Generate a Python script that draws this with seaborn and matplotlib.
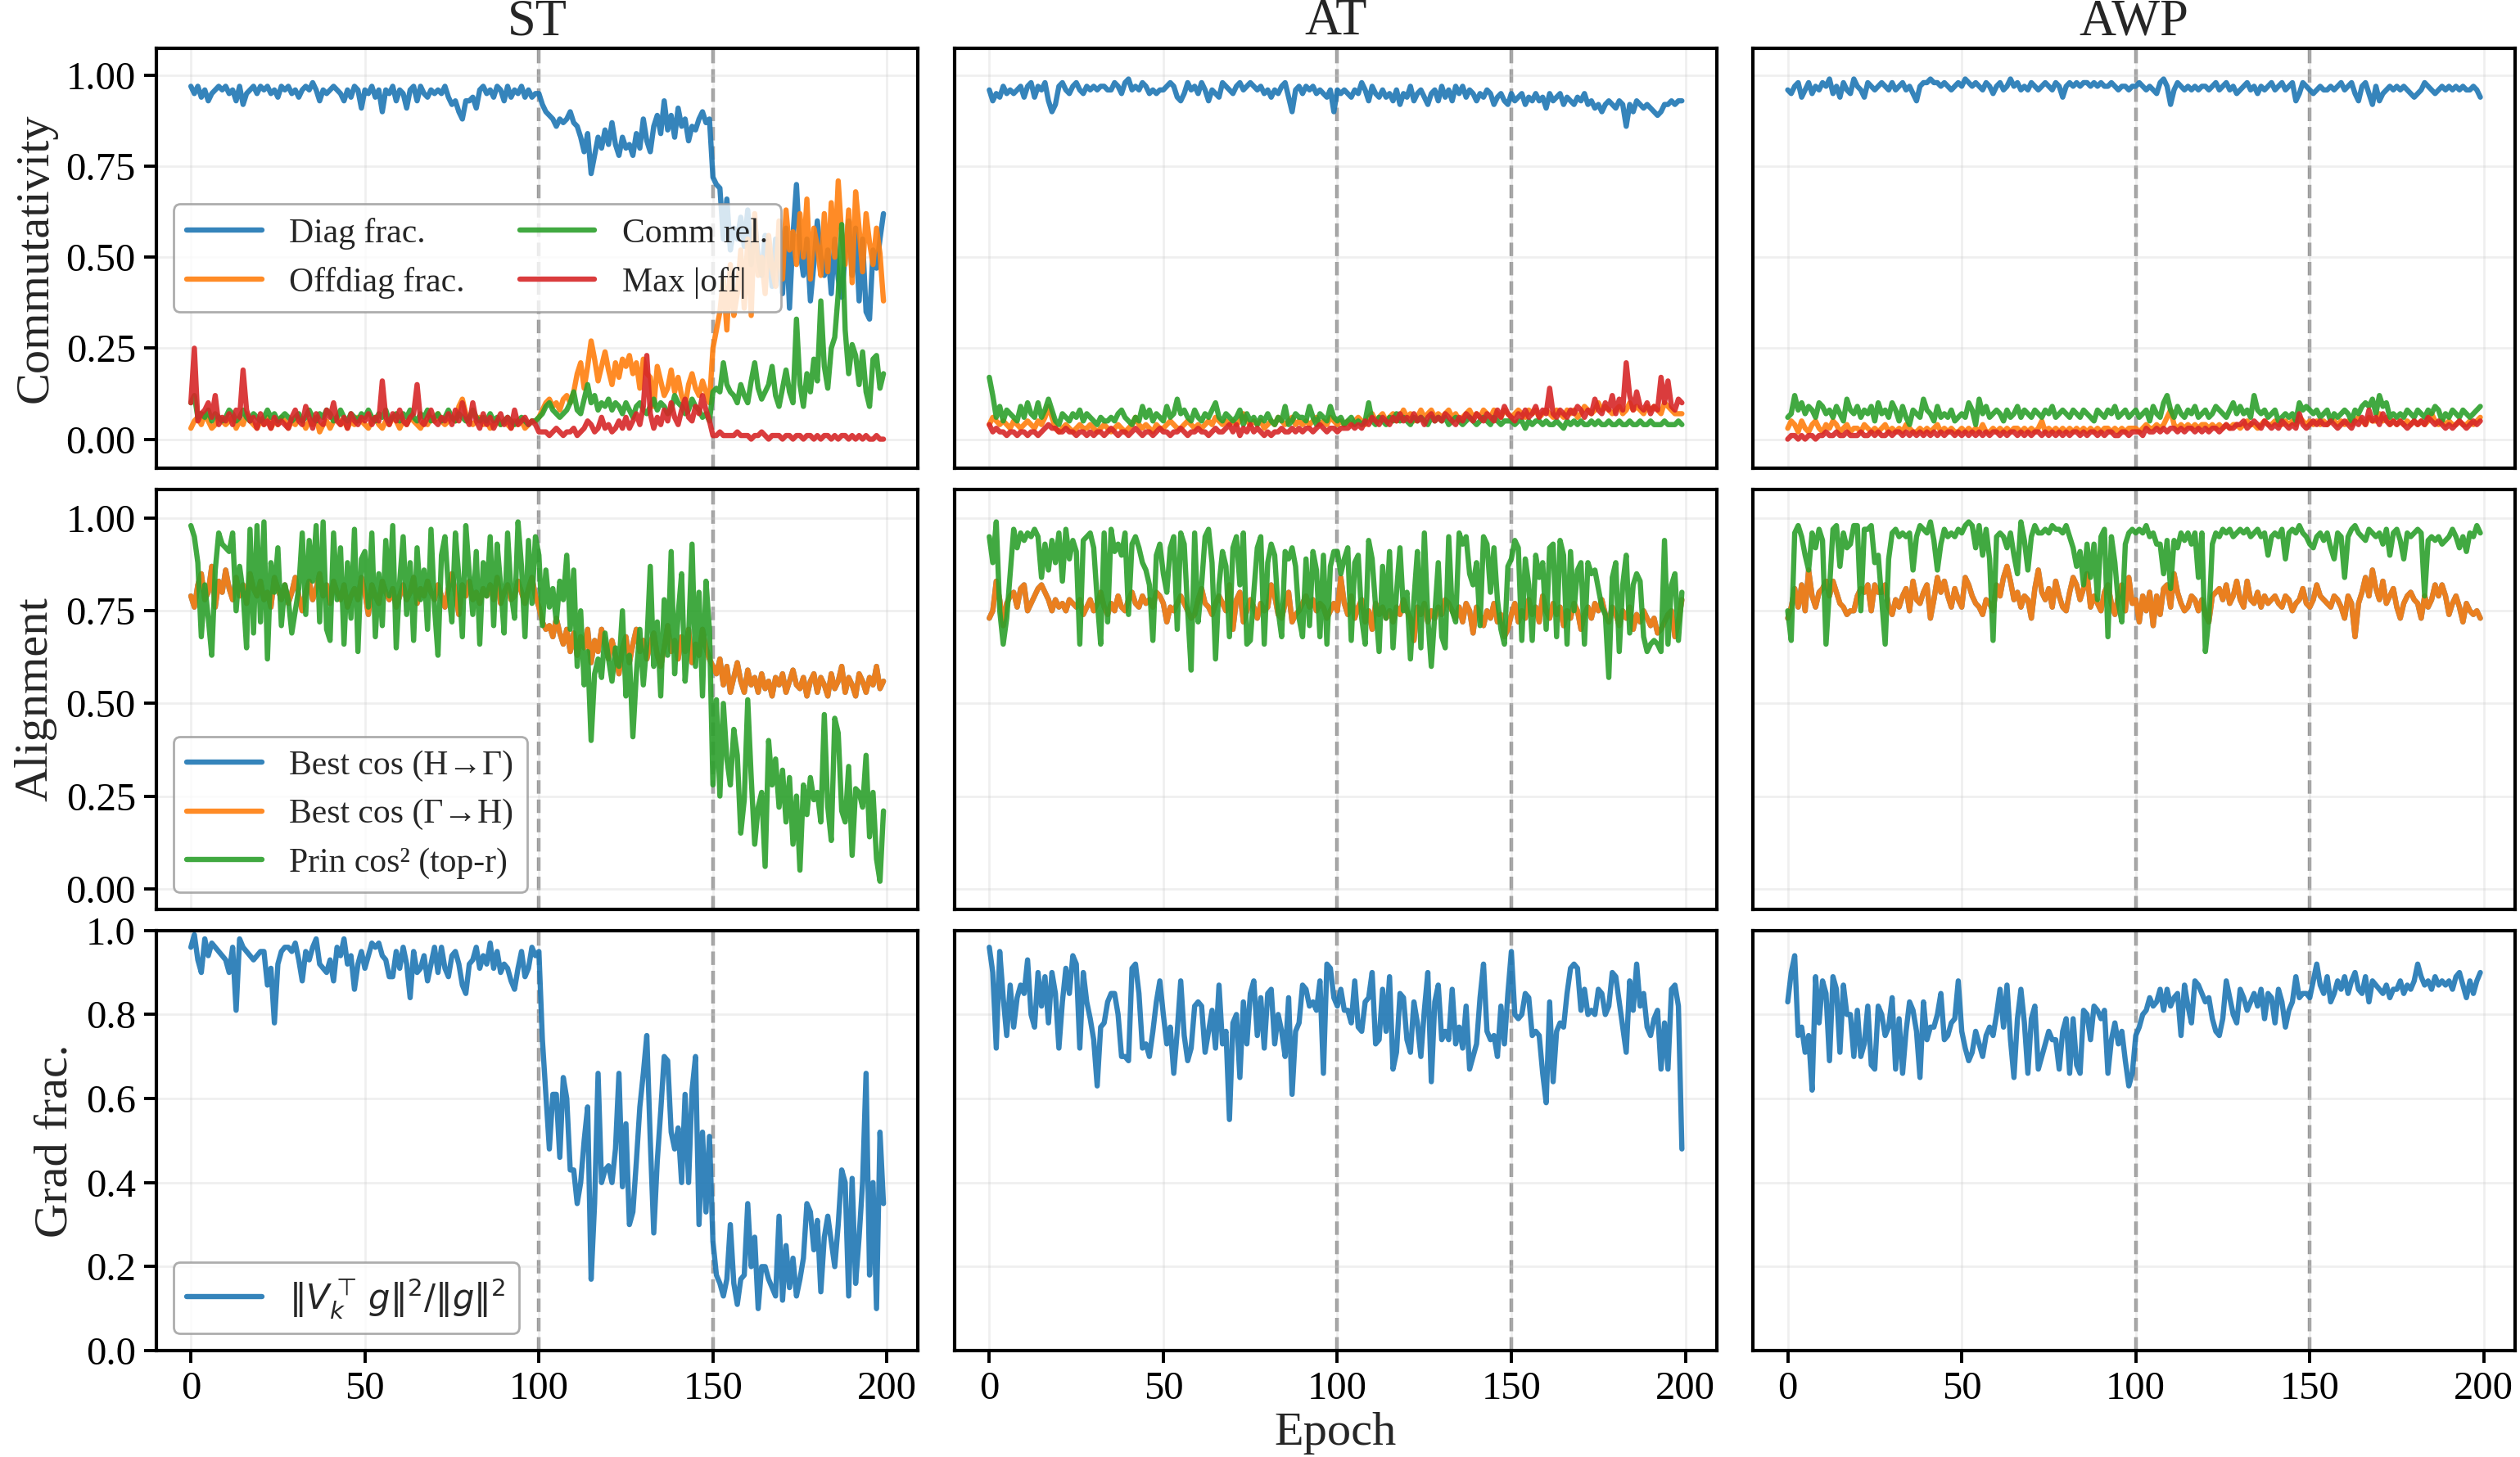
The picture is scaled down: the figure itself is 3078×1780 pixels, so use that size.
import numpy as np
import pandas as pd
import seaborn as sns
import matplotlib.pyplot as plt

# ---- data (one value per epoch) ----
epochs = np.arange(200)
runs = ['ST', 'AT', 'AWP']
row_labels = ['Commutativity', 'Alignment', 'Grad frac.']

st_diag = [
    0.97, 0.95, 0.97, 0.94, 0.96, 0.93, 0.95, 0.96, 0.97, 0.96,
    0.97, 0.95, 0.96, 0.93, 0.97, 0.92, 0.95, 0.96, 0.97, 0.95,
    0.97, 0.96, 0.97, 0.95, 0.96, 0.94, 0.97, 0.96, 0.97, 0.95,
    0.96, 0.94, 0.96, 0.97, 0.96, 0.98, 0.96, 0.93, 0.96, 0.95,
    0.96, 0.97, 0.96, 0.95, 0.93, 0.96, 0.94, 0.97, 0.96, 0.91,
    0.96, 0.95, 0.97, 0.94, 0.96, 0.90, 0.96, 0.95, 0.97, 0.93,
    0.96, 0.95, 0.91, 0.96, 0.97, 0.93, 0.97, 0.95, 0.94, 0.96,
    0.95, 0.96, 0.95, 0.97, 0.94, 0.92, 0.93, 0.90, 0.88, 0.93,
    0.93, 0.94, 0.91, 0.96, 0.97, 0.95, 0.96, 0.94, 0.97, 0.96,
    0.93, 0.97, 0.94, 0.96, 0.95, 0.97, 0.94, 0.96, 0.94, 0.95,
    0.95, 0.92, 0.90, 0.89, 0.88, 0.86, 0.88, 0.87, 0.88, 0.90,
    0.87, 0.86, 0.83, 0.79, 0.84, 0.73, 0.78, 0.83, 0.80, 0.85,
    0.81, 0.87, 0.81, 0.78, 0.83, 0.80, 0.81, 0.78, 0.84, 0.80,
    0.88, 0.82, 0.79, 0.86, 0.89, 0.84, 0.93, 0.85, 0.89, 0.83,
    0.91, 0.86, 0.88, 0.82, 0.86, 0.85, 0.88, 0.90, 0.87, 0.88,
    0.72, 0.70, 0.69, 0.55, 0.66, 0.52, 0.58, 0.55, 0.61, 0.53,
    0.63, 0.48, 0.60, 0.50, 0.45, 0.56, 0.52, 0.42, 0.55, 0.47,
    0.40, 0.58, 0.36, 0.56, 0.70, 0.52, 0.45, 0.55, 0.38, 0.48,
    0.60, 0.50, 0.45, 0.52, 0.40, 0.55, 0.44, 0.39, 0.51, 0.60,
    0.45, 0.58, 0.38, 0.55, 0.35, 0.33, 0.52, 0.47, 0.55, 0.62,
]
st_offdiag = [
    0.03, 0.05, 0.06, 0.04, 0.07, 0.05, 0.03, 0.04, 0.06, 0.05,
    0.04, 0.05, 0.06, 0.03, 0.05, 0.04, 0.07, 0.05, 0.04, 0.03,
    0.05, 0.04, 0.06, 0.03, 0.05, 0.04, 0.06, 0.05, 0.03, 0.05,
    0.04, 0.06, 0.05, 0.03, 0.05, 0.04, 0.06, 0.02, 0.04, 0.05,
    0.03, 0.05, 0.06, 0.04, 0.05, 0.03, 0.05, 0.04, 0.06, 0.05,
    0.04, 0.03, 0.05, 0.06, 0.04, 0.03, 0.05, 0.04, 0.06, 0.05,
    0.03, 0.05, 0.04, 0.06, 0.05, 0.04, 0.03, 0.05, 0.04, 0.06,
    0.05, 0.07, 0.05, 0.04, 0.05, 0.06, 0.05, 0.09, 0.11, 0.07,
    0.05, 0.04, 0.05, 0.06, 0.04, 0.05, 0.03, 0.04, 0.05, 0.04,
    0.05, 0.04, 0.03, 0.05, 0.04, 0.05, 0.03, 0.04, 0.05, 0.05,
    0.06, 0.08, 0.10, 0.11, 0.09, 0.10, 0.08, 0.11, 0.12, 0.10,
    0.13, 0.18, 0.21, 0.14, 0.20, 0.27, 0.22, 0.16, 0.20, 0.24,
    0.19, 0.15, 0.21, 0.17, 0.22, 0.20, 0.23, 0.18, 0.21, 0.14,
    0.22, 0.18, 0.17, 0.09, 0.20, 0.16, 0.12, 0.14, 0.19, 0.13,
    0.17, 0.12, 0.09, 0.15, 0.18, 0.14, 0.12, 0.16, 0.13, 0.10,
    0.25, 0.30, 0.35, 0.44, 0.30, 0.48, 0.34, 0.40, 0.52, 0.36,
    0.55, 0.34, 0.62, 0.45, 0.50, 0.40, 0.56, 0.47, 0.42, 0.60,
    0.44, 0.63, 0.52, 0.57, 0.48, 0.62, 0.50, 0.66, 0.44, 0.58,
    0.53, 0.45, 0.62, 0.46, 0.65, 0.50, 0.71, 0.56, 0.48, 0.63,
    0.43, 0.68, 0.58, 0.46, 0.62, 0.54, 0.48, 0.58, 0.51, 0.38,
]
st_comm = [
    0.10, 0.12, 0.06, 0.07, 0.06, 0.08, 0.05, 0.07, 0.06, 0.05,
    0.06, 0.08, 0.07, 0.05, 0.06, 0.08, 0.06, 0.05, 0.07, 0.06,
    0.05, 0.06, 0.08, 0.06, 0.07, 0.05, 0.06, 0.07, 0.06, 0.05,
    0.06, 0.07, 0.05, 0.06, 0.08, 0.06, 0.05, 0.07, 0.06, 0.08,
    0.07, 0.05, 0.06, 0.08, 0.06, 0.05, 0.07, 0.06, 0.05, 0.07,
    0.06, 0.08, 0.06, 0.05, 0.07, 0.06, 0.08, 0.05, 0.06, 0.07,
    0.05, 0.07, 0.06, 0.08, 0.06, 0.05, 0.07, 0.06, 0.08, 0.05,
    0.06, 0.07, 0.05, 0.06, 0.08, 0.06, 0.05, 0.07, 0.06, 0.05,
    0.06, 0.08, 0.06, 0.05, 0.06, 0.05, 0.07, 0.05, 0.06, 0.04,
    0.05, 0.06, 0.05, 0.04, 0.05, 0.06, 0.05, 0.04, 0.05, 0.05,
    0.06, 0.07, 0.09, 0.10, 0.08, 0.07, 0.06, 0.07, 0.08, 0.10,
    0.13, 0.08, 0.07, 0.11, 0.15, 0.10, 0.12, 0.08, 0.10, 0.09,
    0.11, 0.08, 0.10, 0.09, 0.07, 0.10, 0.08, 0.06, 0.09, 0.10,
    0.08, 0.07, 0.09, 0.11, 0.08, 0.10, 0.09, 0.07, 0.08, 0.12,
    0.10, 0.09, 0.07, 0.08, 0.11, 0.09, 0.08, 0.06, 0.07, 0.05,
    0.13, 0.14, 0.13, 0.21, 0.15, 0.13, 0.12, 0.10, 0.15, 0.12,
    0.10, 0.16, 0.21, 0.14, 0.11, 0.13, 0.15, 0.20, 0.12, 0.09,
    0.14, 0.19, 0.13, 0.10, 0.33, 0.15, 0.09, 0.18, 0.13, 0.22,
    0.16, 0.38, 0.20, 0.14, 0.25, 0.28, 0.40, 0.59, 0.30, 0.18,
    0.26, 0.23, 0.15, 0.24, 0.13, 0.09, 0.22, 0.23, 0.14, 0.18,
]
st_maxoff = [
    0.10, 0.25, 0.05, 0.07, 0.08, 0.10, 0.06, 0.12, 0.04, 0.06,
    0.05, 0.07, 0.04, 0.08, 0.06, 0.19, 0.08, 0.05, 0.06, 0.03,
    0.07, 0.04, 0.05, 0.03, 0.06, 0.04, 0.05, 0.04, 0.03, 0.06,
    0.08, 0.05, 0.04, 0.09, 0.06, 0.03, 0.07, 0.05, 0.04, 0.08,
    0.06, 0.10, 0.05, 0.04, 0.06, 0.03, 0.07, 0.05, 0.04, 0.06,
    0.05, 0.07, 0.04, 0.06, 0.05, 0.16, 0.06, 0.04, 0.07, 0.05,
    0.08, 0.05, 0.04, 0.06, 0.07, 0.15, 0.05, 0.04, 0.06, 0.08,
    0.05, 0.04, 0.06, 0.05, 0.07, 0.04, 0.08, 0.05, 0.10, 0.06,
    0.04, 0.10, 0.05, 0.03, 0.07, 0.04, 0.06, 0.03, 0.05, 0.07,
    0.04, 0.06, 0.03, 0.08, 0.04, 0.05, 0.06, 0.04, 0.05, 0.04,
    0.02, 0.02, 0.02, 0.01, 0.02, 0.03, 0.02, 0.01, 0.02, 0.02,
    0.03, 0.01, 0.02, 0.03, 0.05, 0.04, 0.02, 0.03, 0.06, 0.03,
    0.04, 0.02, 0.03, 0.05, 0.03, 0.06, 0.03, 0.05, 0.07, 0.04,
    0.09, 0.23, 0.07, 0.03, 0.06, 0.04, 0.08, 0.05, 0.10, 0.06,
    0.04, 0.08, 0.11, 0.06, 0.05, 0.09, 0.07, 0.12, 0.08, 0.05,
    0.01, 0.01, 0.02, 0.01, 0.01, 0.01, 0.01, 0.02, 0.01, 0.01,
    0.01, 0.00, 0.01, 0.01, 0.02, 0.01, 0.00, 0.01, 0.01, 0.01,
    0.00, 0.01, 0.01, 0.00, 0.01, 0.01, 0.00, 0.01, 0.01, 0.00,
    0.01, 0.00, 0.01, 0.01, 0.00, 0.01, 0.00, 0.01, 0.01, 0.00,
    0.01, 0.00, 0.01, 0.00, 0.01, 0.00, 0.00, 0.01, 0.00, 0.00,
]
st_cos_gh = [
    0.79, 0.76, 0.82, 0.85, 0.78, 0.80, 0.87, 0.76, 0.83, 0.80,
    0.86, 0.81, 0.78, 0.84, 0.79, 0.82, 0.77, 0.85, 0.81, 0.79,
    0.83, 0.78, 0.80, 0.76, 0.84, 0.81, 0.78, 0.82, 0.77, 0.80,
    0.84, 0.79, 0.75, 0.80, 0.83, 0.78, 0.81, 0.85, 0.79, 0.82,
    0.77, 0.83, 0.80, 0.78, 0.82, 0.76, 0.79, 0.81, 0.78, 0.84,
    0.80, 0.74, 0.82, 0.79, 0.77, 0.83, 0.80, 0.78, 0.81, 0.76,
    0.79, 0.82, 0.78, 0.80, 0.84, 0.77, 0.81, 0.79, 0.83, 0.80,
    0.78, 0.82, 0.79, 0.76, 0.81, 0.85, 0.80, 0.74, 0.82, 0.79,
    0.83, 0.78, 0.80, 0.77, 0.81, 0.79, 0.82, 0.78, 0.84, 0.77,
    0.80, 0.82, 0.78, 0.79, 0.83, 0.80, 0.77, 0.81, 0.84, 0.79,
    0.76, 0.72, 0.70, 0.71, 0.68, 0.73, 0.69, 0.66, 0.70, 0.64,
    0.69, 0.63, 0.68, 0.65, 0.70, 0.61, 0.67, 0.64, 0.70, 0.66,
    0.62, 0.67, 0.63, 0.58, 0.65, 0.68, 0.61, 0.66, 0.70, 0.64,
    0.67, 0.62, 0.66, 0.69, 0.63, 0.60, 0.65, 0.71, 0.64, 0.67,
    0.62, 0.68, 0.64, 0.70, 0.61, 0.66, 0.63, 0.70, 0.65, 0.62,
    0.60, 0.58, 0.62, 0.55, 0.60, 0.53, 0.57, 0.61, 0.56, 0.53,
    0.59, 0.55, 0.57, 0.53, 0.58, 0.54, 0.56, 0.52, 0.57, 0.55,
    0.58, 0.53, 0.56, 0.59, 0.55, 0.54, 0.57, 0.52, 0.56, 0.58,
    0.53, 0.57, 0.55, 0.52, 0.58, 0.54, 0.56, 0.60, 0.53, 0.57,
    0.55, 0.52, 0.58, 0.56, 0.53, 0.57, 0.55, 0.60, 0.54, 0.56,
]
st_cos_hg = list(st_cos_gh)  # sits right under the orange line
st_prin = [
    0.98, 0.95, 0.88, 0.68, 0.82, 0.73, 0.63, 0.86, 0.96, 0.93,
    0.92, 0.91, 0.96, 0.75, 0.87, 0.80, 0.65, 0.97, 0.69, 0.98,
    0.72, 0.99, 0.62, 0.88, 0.80, 0.92, 0.71, 0.82, 0.78, 0.69,
    0.75, 0.81, 0.96, 0.74, 0.94, 0.83, 0.98, 0.72, 0.99, 0.70,
    0.67, 0.96, 0.78, 0.92, 0.66, 0.88, 0.73, 0.97, 0.64, 0.89,
    0.91, 0.76, 0.96, 0.68, 0.85, 0.71, 0.94, 0.79, 0.98, 0.65,
    0.83, 0.95, 0.74, 0.88, 0.67, 0.92, 0.78, 0.86, 0.70, 0.97,
    0.76, 0.63, 0.90, 0.95, 0.81, 0.72, 0.96, 0.84, 0.68, 0.98,
    0.85, 0.74, 0.91, 0.66, 0.88, 0.79, 0.95, 0.71, 0.93, 0.82,
    0.69, 0.96, 0.80, 0.73, 0.99, 0.87, 0.68, 0.94, 0.77, 0.95,
    0.90, 0.71, 0.86, 0.76, 0.81, 0.72, 0.83, 0.78, 0.90, 0.70,
    0.86, 0.60, 0.75, 0.55, 0.64, 0.40, 0.58, 0.62, 0.57, 0.69,
    0.62, 0.56, 0.65, 0.60, 0.75, 0.52, 0.63, 0.41, 0.58, 0.70,
    0.55, 0.66, 0.87, 0.60, 0.72, 0.52, 0.78, 0.63, 0.91, 0.58,
    0.74, 0.85, 0.56, 0.68, 0.93, 0.60, 0.80, 0.52, 0.83, 0.70,
    0.28, 0.51, 0.25, 0.50, 0.35, 0.28, 0.43, 0.36, 0.15, 0.24,
    0.51, 0.30, 0.12, 0.22, 0.26, 0.06, 0.40, 0.28, 0.35, 0.22,
    0.32, 0.18, 0.30, 0.12, 0.25, 0.05, 0.28, 0.20, 0.30, 0.24,
    0.26, 0.18, 0.47, 0.22, 0.13, 0.46, 0.42, 0.21, 0.18, 0.33,
    0.09, 0.27, 0.26, 0.22, 0.36, 0.14, 0.26, 0.08, 0.02, 0.21,
]
st_grad = [
    0.96, 0.99, 0.93, 0.90, 0.98, 0.94, 0.97, 0.96, 0.95, 0.94,
    0.93, 0.90, 0.96, 0.81, 0.98, 0.96, 0.95, 0.94, 0.93, 0.94,
    0.95, 0.95, 0.87, 0.91, 0.78, 0.92, 0.95, 0.96, 0.96, 0.95,
    0.97, 0.93, 0.88, 0.95, 0.93, 0.96, 0.98, 0.92, 0.91, 0.90,
    0.93, 0.88, 0.96, 0.94, 0.98, 0.92, 0.94, 0.86, 0.92, 0.95,
    0.91, 0.94, 0.97, 0.96, 0.97, 0.94, 0.93, 0.89, 0.89, 0.95,
    0.91, 0.96, 0.92, 0.84, 0.95, 0.90, 0.91, 0.94, 0.88, 0.92,
    0.96, 0.90, 0.96, 0.91, 0.89, 0.94, 0.95, 0.92, 0.87, 0.85,
    0.92, 0.93, 0.96, 0.91, 0.94, 0.92, 0.97, 0.91, 0.95, 0.90,
    0.92, 0.91, 0.88, 0.86, 0.91, 0.95, 0.89, 0.91, 0.96, 0.94,
    0.95, 0.74, 0.61, 0.48, 0.61, 0.61, 0.46, 0.65, 0.60, 0.43,
    0.43, 0.35, 0.40, 0.50, 0.58, 0.17, 0.35, 0.66, 0.40, 0.43,
    0.44, 0.40, 0.48, 0.66, 0.39, 0.54, 0.30, 0.33, 0.45, 0.58,
    0.66, 0.75, 0.50, 0.28, 0.45, 0.57, 0.70, 0.69, 0.52, 0.48,
    0.53, 0.40, 0.61, 0.40, 0.62, 0.70, 0.30, 0.52, 0.33, 0.51,
    0.26, 0.18, 0.16, 0.13, 0.17, 0.30, 0.16, 0.11, 0.17, 0.18,
    0.35, 0.20, 0.27, 0.10, 0.20, 0.20, 0.17, 0.15, 0.13, 0.32,
    0.12, 0.25, 0.15, 0.22, 0.13, 0.17, 0.22, 0.35, 0.33, 0.24,
    0.31, 0.14, 0.27, 0.32, 0.26, 0.20, 0.30, 0.43, 0.40, 0.13,
    0.41, 0.16, 0.27, 0.40, 0.66, 0.18, 0.40, 0.10, 0.52, 0.35,
]

at_diag = [
    0.96, 0.93, 0.95, 0.94, 0.97, 0.95, 0.96, 0.95, 0.96, 0.97,
    0.94, 0.97, 0.98, 0.94, 0.97, 0.96, 0.98, 0.93, 0.90, 0.92,
    0.97, 0.98, 0.96, 0.95, 0.97, 0.98, 0.96, 0.95, 0.97, 0.96,
    0.97, 0.96, 0.97, 0.97, 0.96, 0.96, 0.98, 0.97, 0.95, 0.98,
    0.99, 0.96, 0.97, 0.96, 0.98, 0.97, 0.95, 0.96, 0.95, 0.96,
    0.96, 0.97, 0.98, 0.97, 0.94, 0.93, 0.95, 0.98, 0.96, 0.97,
    0.95, 0.98, 0.96, 0.93, 0.96, 0.95, 0.94, 0.98, 0.97, 0.96,
    0.95, 0.97, 0.98, 0.96, 0.97, 0.98, 0.97, 0.96, 0.97, 0.95,
    0.96, 0.94, 0.96, 0.95, 0.97, 0.98, 0.94, 0.90, 0.96, 0.97,
    0.95, 0.97, 0.96, 0.97, 0.95, 0.96, 0.95, 0.94, 0.96, 0.90,
    0.96, 0.95, 0.96, 0.95, 0.94, 0.96, 0.95, 0.98, 0.96, 0.93,
    0.97, 0.95, 0.94, 0.96, 0.94, 0.95, 0.93, 0.96, 0.92, 0.95,
    0.94, 0.97, 0.93, 0.95, 0.96, 0.94, 0.92, 0.95, 0.96, 0.93,
    0.97, 0.94, 0.96, 0.93, 0.97, 0.95, 0.97, 0.94, 0.96, 0.95,
    0.93, 0.95, 0.94, 0.96, 0.95, 0.92, 0.94, 0.95, 0.93, 0.92,
    0.95, 0.93, 0.94, 0.95, 0.92, 0.94, 0.93, 0.95, 0.93, 0.94,
    0.91, 0.95, 0.93, 0.94, 0.95, 0.92, 0.94, 0.93, 0.92, 0.94,
    0.93, 0.95, 0.92, 0.93, 0.91, 0.92, 0.90, 0.92, 0.93, 0.92,
    0.91, 0.93, 0.92, 0.86, 0.92, 0.90, 0.93, 0.92, 0.91, 0.92,
    0.91, 0.90, 0.89, 0.90, 0.92, 0.92, 0.93, 0.92, 0.93, 0.93,
]
at_offdiag = [
    0.04, 0.06, 0.05, 0.04, 0.05, 0.04, 0.03, 0.05, 0.04, 0.03,
    0.04, 0.05, 0.04, 0.03, 0.05, 0.04, 0.06, 0.09, 0.06, 0.03,
    0.02, 0.03, 0.04, 0.03, 0.02, 0.03, 0.04, 0.03, 0.03, 0.04,
    0.03, 0.02, 0.03, 0.04, 0.03, 0.02, 0.03, 0.04, 0.03, 0.02,
    0.03, 0.04, 0.06, 0.04, 0.03, 0.04, 0.03, 0.02, 0.04, 0.03,
    0.03, 0.04, 0.05, 0.04, 0.03, 0.03, 0.04, 0.05, 0.04, 0.03,
    0.04, 0.03, 0.04, 0.05, 0.04, 0.06, 0.05, 0.04, 0.05, 0.04,
    0.05, 0.04, 0.05, 0.07, 0.05, 0.04, 0.05, 0.04, 0.05, 0.03,
    0.04, 0.05, 0.04, 0.06, 0.05, 0.04, 0.05, 0.06, 0.04, 0.05,
    0.04, 0.05, 0.04, 0.05, 0.06, 0.04, 0.05, 0.04, 0.06, 0.05,
    0.04, 0.05, 0.04, 0.05, 0.04, 0.05, 0.06, 0.05, 0.04, 0.06,
    0.07, 0.05, 0.06, 0.07, 0.05, 0.06, 0.07, 0.05, 0.06, 0.08,
    0.06, 0.07, 0.05, 0.06, 0.08, 0.06, 0.07, 0.08, 0.06, 0.07,
    0.06, 0.07, 0.08, 0.06, 0.07, 0.05, 0.06, 0.07, 0.08, 0.06,
    0.07, 0.06, 0.08, 0.07, 0.06, 0.08, 0.07, 0.06, 0.08, 0.07,
    0.06, 0.07, 0.08, 0.07, 0.06, 0.08, 0.07, 0.08, 0.06, 0.07,
    0.08, 0.07, 0.06, 0.08, 0.07, 0.06, 0.08, 0.07, 0.08, 0.06,
    0.07, 0.09, 0.08, 0.07, 0.08, 0.10, 0.08, 0.09, 0.08, 0.07,
    0.08, 0.09, 0.07, 0.08, 0.10, 0.08, 0.09, 0.08, 0.07, 0.09,
    0.08, 0.09, 0.08, 0.07, 0.10, 0.09, 0.08, 0.07, 0.07, 0.07,
]
at_comm = [
    0.17, 0.12, 0.06, 0.09, 0.05, 0.08, 0.07, 0.06, 0.05, 0.09,
    0.06, 0.10, 0.07, 0.06, 0.10, 0.06, 0.08, 0.11, 0.08, 0.05,
    0.04, 0.07, 0.06, 0.05, 0.07, 0.06, 0.08, 0.05, 0.07, 0.06,
    0.05, 0.04, 0.06, 0.05, 0.05, 0.06, 0.05, 0.07, 0.08, 0.06,
    0.05, 0.04, 0.06, 0.05, 0.09, 0.06, 0.08, 0.05, 0.07, 0.06,
    0.05, 0.09, 0.06, 0.07, 0.11, 0.07, 0.08, 0.06, 0.05, 0.08,
    0.06, 0.05, 0.07, 0.06, 0.08, 0.10, 0.06, 0.05, 0.07, 0.06,
    0.05, 0.06, 0.08, 0.04, 0.07, 0.05, 0.06, 0.04, 0.06, 0.05,
    0.07, 0.05, 0.04, 0.06, 0.05, 0.09, 0.04, 0.05, 0.07, 0.06,
    0.06, 0.05, 0.09, 0.06, 0.04, 0.07, 0.06, 0.05, 0.09, 0.06,
    0.05, 0.06, 0.04, 0.05, 0.06, 0.04, 0.05, 0.04, 0.05, 0.10,
    0.05, 0.04, 0.06, 0.05, 0.04, 0.06, 0.05, 0.07, 0.05, 0.06,
    0.05, 0.04, 0.06, 0.05, 0.06, 0.05, 0.04, 0.06, 0.05, 0.06,
    0.05, 0.06, 0.04, 0.05, 0.06, 0.05, 0.04, 0.05, 0.06, 0.05,
    0.04, 0.05, 0.06, 0.05, 0.04, 0.06, 0.05, 0.04, 0.05, 0.05,
    0.05, 0.04, 0.05, 0.05, 0.03, 0.05, 0.04, 0.05, 0.05, 0.04,
    0.05, 0.04, 0.04, 0.05, 0.04, 0.03, 0.05, 0.04, 0.05, 0.04,
    0.05, 0.04, 0.04, 0.05, 0.04, 0.05, 0.04, 0.04, 0.05, 0.04,
    0.04, 0.05, 0.04, 0.04, 0.05, 0.04, 0.04, 0.05, 0.04, 0.04,
    0.05, 0.04, 0.04, 0.04, 0.05, 0.04, 0.04, 0.04, 0.05, 0.04,
]
at_maxoff = [
    0.04, 0.02, 0.03, 0.02, 0.02, 0.01, 0.02, 0.02, 0.01, 0.02,
    0.02, 0.01, 0.02, 0.02, 0.01, 0.02, 0.03, 0.04, 0.03, 0.03,
    0.02, 0.02, 0.03, 0.02, 0.02, 0.01, 0.02, 0.02, 0.01, 0.02,
    0.01, 0.02, 0.02, 0.01, 0.02, 0.03, 0.02, 0.01, 0.02, 0.02,
    0.01, 0.02, 0.03, 0.02, 0.01, 0.02, 0.02, 0.01, 0.02, 0.03,
    0.02, 0.02, 0.01, 0.02, 0.02, 0.03, 0.02, 0.01, 0.02, 0.02,
    0.03, 0.02, 0.02, 0.01, 0.02, 0.03, 0.02, 0.02, 0.03, 0.04,
    0.02, 0.04, 0.01, 0.03, 0.02, 0.04, 0.02, 0.03, 0.02, 0.01,
    0.02, 0.01, 0.02, 0.02, 0.03, 0.02, 0.02, 0.03, 0.02, 0.03,
    0.02, 0.03, 0.03, 0.02, 0.03, 0.04, 0.03, 0.02, 0.03, 0.03,
    0.02, 0.03, 0.03, 0.03, 0.04, 0.03, 0.04, 0.03, 0.05, 0.04,
    0.06, 0.05, 0.04, 0.06, 0.05, 0.04, 0.06, 0.05, 0.07, 0.05,
    0.06, 0.05, 0.07, 0.05, 0.06, 0.04, 0.06, 0.07, 0.05, 0.06,
    0.05, 0.07, 0.06, 0.05, 0.04, 0.06, 0.05, 0.07, 0.06, 0.05,
    0.07, 0.06, 0.05, 0.07, 0.06, 0.05, 0.08, 0.06, 0.09, 0.07,
    0.06, 0.05, 0.07, 0.06, 0.08, 0.06, 0.07, 0.09, 0.06, 0.08,
    0.07, 0.14, 0.07, 0.06, 0.08, 0.07, 0.06, 0.08, 0.07, 0.09,
    0.08, 0.06, 0.08, 0.07, 0.11, 0.08, 0.07, 0.10, 0.08, 0.12,
    0.07, 0.11, 0.08, 0.21, 0.12, 0.08, 0.13, 0.09, 0.08, 0.10,
    0.07, 0.09, 0.08, 0.17, 0.10, 0.16, 0.09, 0.08, 0.11, 0.10,
]
at_cos_gh = [
    0.73, 0.75, 0.83, 0.78, 0.71, 0.77, 0.79, 0.80, 0.76, 0.81,
    0.82, 0.75, 0.77, 0.79, 0.81, 0.82, 0.80, 0.78, 0.75, 0.78,
    0.76, 0.77, 0.75, 0.78, 0.77, 0.76, 0.78, 0.74, 0.76, 0.78,
    0.75, 0.77, 0.80, 0.76, 0.74, 0.77, 0.75, 0.79, 0.76, 0.75,
    0.78, 0.80, 0.77, 0.76, 0.79, 0.77, 0.78, 0.76, 0.80, 0.79,
    0.77, 0.72, 0.76, 0.75, 0.77, 0.79, 0.77, 0.75, 0.73, 0.74,
    0.78, 0.81, 0.77, 0.76, 0.74, 0.77, 0.79, 0.77, 0.75, 0.82,
    0.70, 0.78, 0.80, 0.72, 0.75, 0.78, 0.76, 0.73, 0.77, 0.75,
    0.76, 0.82, 0.79, 0.74, 0.73, 0.77, 0.80, 0.72, 0.74, 0.75,
    0.77, 0.79, 0.76, 0.78, 0.75, 0.77, 0.76, 0.73, 0.75, 0.77,
    0.75, 0.84, 0.77, 0.74, 0.79, 0.73, 0.76, 0.78, 0.72, 0.75,
    0.70, 0.77, 0.74, 0.76, 0.73, 0.75, 0.72, 0.76, 0.74, 0.78,
    0.75, 0.73, 0.67, 0.76, 0.74, 0.77, 0.72, 0.75, 0.73, 0.76,
    0.74, 0.78, 0.77, 0.75, 0.73, 0.76, 0.72, 0.77, 0.75, 0.69,
    0.76, 0.74, 0.71, 0.75, 0.73, 0.77, 0.72, 0.74, 0.68, 0.70,
    0.74, 0.77, 0.72, 0.75, 0.73, 0.78, 0.74, 0.76, 0.72, 0.79,
    0.75, 0.73, 0.77, 0.74, 0.76, 0.71, 0.75, 0.73, 0.77, 0.75,
    0.70, 0.74, 0.76, 0.73, 0.77, 0.75, 0.78, 0.74, 0.72, 0.76,
    0.74, 0.71, 0.75, 0.73, 0.76, 0.70, 0.74, 0.72, 0.75, 0.73,
    0.71, 0.73, 0.69, 0.70, 0.72, 0.74, 0.75, 0.68, 0.72, 0.78,
]
at_cos_hg = list(at_cos_gh)
at_prin = [
    0.95, 0.88, 0.99, 0.75, 0.66, 0.73, 0.85, 0.97, 0.92, 0.96,
    0.94, 0.96, 0.95, 0.97, 0.95, 0.84, 0.93, 0.86, 0.94, 0.88,
    0.96, 0.83, 0.97, 0.89, 0.94, 0.91, 0.66, 0.94, 0.95, 0.96,
    0.92, 0.78, 0.66, 0.96, 0.72, 0.97, 0.91, 0.93, 0.90, 0.96,
    0.74, 0.93, 0.95, 0.92, 0.88, 0.86, 0.82, 0.67, 0.90, 0.93,
    0.85, 0.80, 0.92, 0.95, 0.70, 0.96, 0.93, 0.75, 0.59, 0.96,
    0.72, 0.82, 0.95, 0.97, 0.88, 0.62, 0.82, 0.91, 0.87, 0.68,
    0.92, 0.95, 0.82, 0.96, 0.66, 0.67, 0.80, 0.92, 0.95, 0.66,
    0.88, 0.93, 0.90, 0.75, 0.68, 0.91, 0.89, 0.92, 0.87, 0.73,
    0.68, 0.89, 0.71, 0.91, 0.86, 0.68, 0.90, 0.66, 0.87, 0.91,
    0.91, 0.85, 0.89, 0.92, 0.67, 0.88, 0.90, 0.73, 0.66, 0.94,
    0.89, 0.76, 0.64, 0.87, 0.73, 0.91, 0.65, 0.80, 0.92, 0.75,
    0.80, 0.62, 0.78, 0.91, 0.65, 0.96, 0.73, 0.60, 0.74, 0.88,
    0.68, 0.65, 0.95, 0.75, 0.72, 0.96, 0.93, 0.95, 0.85, 0.82,
    0.88, 0.71, 0.95, 0.93, 0.80, 0.92, 0.78, 0.70, 0.66, 0.87,
    0.89, 0.94, 0.92, 0.67, 0.89, 0.82, 0.67, 0.90, 0.84, 0.88,
    0.70, 0.92, 0.93, 0.68, 0.94, 0.90, 0.66, 0.91, 0.75, 0.86,
    0.88, 0.66, 0.88, 0.85, 0.86, 0.81, 0.76, 0.74, 0.57, 0.84,
    0.88, 0.64, 0.82, 0.90, 0.69, 0.82, 0.85, 0.83, 0.68, 0.64,
    0.66, 0.67, 0.66, 0.64, 0.94, 0.66, 0.82, 0.85, 0.67, 0.80,
]
at_grad = [
    0.96, 0.90, 0.72, 0.95, 0.84, 0.75, 0.87, 0.77, 0.84, 0.87,
    0.85, 0.93, 0.80, 0.77, 0.90, 0.82, 0.89, 0.78, 0.90, 0.85,
    0.72, 0.83, 0.91, 0.85, 0.94, 0.92, 0.72, 0.90, 0.83, 0.79,
    0.74, 0.63, 0.77, 0.78, 0.83, 0.85, 0.85, 0.80, 0.70, 0.70,
    0.69, 0.91, 0.92, 0.85, 0.72, 0.73, 0.70, 0.76, 0.83, 0.88,
    0.80, 0.73, 0.77, 0.66, 0.76, 0.88, 0.75, 0.69, 0.72, 0.82,
    0.83, 0.82, 0.71, 0.76, 0.81, 0.72, 0.87, 0.73, 0.76, 0.55,
    0.78, 0.80, 0.65, 0.83, 0.73, 0.85, 0.88, 0.75, 0.84, 0.72,
    0.85, 0.86, 0.73, 0.80, 0.76, 0.70, 0.84, 0.61, 0.76, 0.78,
    0.87, 0.86, 0.82, 0.83, 0.81, 0.88, 0.66, 0.92, 0.91, 0.84,
    0.82, 0.86, 0.81, 0.81, 0.78, 0.88, 0.77, 0.76, 0.83, 0.84,
    0.90, 0.73, 0.74, 0.86, 0.76, 0.89, 0.67, 0.71, 0.85, 0.84,
    0.74, 0.71, 0.83, 0.78, 0.70, 0.81, 0.90, 0.64, 0.83, 0.87,
    0.74, 0.76, 0.74, 0.86, 0.73, 0.77, 0.72, 0.82, 0.67, 0.70,
    0.73, 0.84, 0.92, 0.76, 0.74, 0.75, 0.70, 0.82, 0.73, 0.85,
    0.95, 0.80, 0.79, 0.80, 0.85, 0.84, 0.75, 0.76, 0.75, 0.66,
    0.59, 0.83, 0.64, 0.76, 0.78, 0.77, 0.85, 0.91, 0.92, 0.91,
    0.81, 0.86, 0.80, 0.81, 0.80, 0.86, 0.85, 0.80, 0.82, 0.90,
    0.89, 0.83, 0.77, 0.71, 0.88, 0.81, 0.92, 0.82, 0.85, 0.77,
    0.75, 0.79, 0.81, 0.67, 0.78, 0.67, 0.86, 0.87, 0.82, 0.48,
]

awp_diag = [
    0.96, 0.95, 0.97, 0.98, 0.94, 0.96, 0.98, 0.95, 0.97, 0.96,
    0.98, 0.97, 0.99, 0.95, 0.97, 0.94, 0.98, 0.96, 0.95, 0.99,
    0.97, 0.96, 0.94, 0.98, 0.97, 0.96, 0.97, 0.98, 0.97, 0.96,
    0.98, 0.96, 0.97, 0.98, 0.96, 0.97, 0.95, 0.93, 0.97, 0.98,
    0.98, 0.99, 0.98, 0.98, 0.97, 0.98, 0.97, 0.96, 0.97, 0.98,
    0.97, 0.99, 0.98, 0.97, 0.98, 0.97, 0.96, 0.98, 0.97, 0.95,
    0.97, 0.98, 0.96, 0.97, 0.99, 0.97, 0.98, 0.96, 0.97, 0.96,
    0.98, 0.97, 0.96, 0.97, 0.98, 0.97, 0.96, 0.98, 0.97, 0.94,
    0.97, 0.98, 0.97, 0.98, 0.97, 0.98, 0.98, 0.97, 0.98, 0.97,
    0.98, 0.97, 0.97, 0.98, 0.97, 0.96, 0.97, 0.97, 0.96, 0.97,
    0.97, 0.98, 0.97, 0.96, 0.97, 0.96, 0.95, 0.98, 0.99, 0.97,
    0.92, 0.96, 0.98, 0.97, 0.96, 0.97, 0.96, 0.97, 0.96, 0.97,
    0.97, 0.96, 0.97, 0.98, 0.96, 0.97, 0.98, 0.96, 0.97, 0.95,
    0.96, 0.97, 0.98, 0.96, 0.97, 0.95, 0.97, 0.96, 0.97, 0.98,
    0.96, 0.97, 0.98, 0.96, 0.97, 0.98, 0.93, 0.95, 0.98, 0.97,
    0.96, 0.95, 0.96, 0.97, 0.96, 0.96, 0.97, 0.96, 0.97, 0.98,
    0.96, 0.97, 0.98, 0.95, 0.93, 0.97, 0.98, 0.95, 0.92, 0.97,
    0.93, 0.95, 0.96, 0.97, 0.96, 0.97, 0.96, 0.97, 0.96, 0.95,
    0.94, 0.95, 0.96, 0.98, 0.97, 0.96, 0.95, 0.96, 0.97, 0.96,
    0.97, 0.96, 0.97, 0.96, 0.97, 0.96, 0.96, 0.97, 0.96, 0.94,
]
awp_offdiag = [
    0.03, 0.05, 0.04, 0.02, 0.05, 0.03, 0.02, 0.04, 0.05, 0.03,
    0.02, 0.04, 0.03, 0.05, 0.04, 0.02, 0.03, 0.04, 0.02, 0.03,
    0.03, 0.02, 0.04, 0.03, 0.02, 0.03, 0.02, 0.03, 0.04, 0.02,
    0.03, 0.02, 0.03, 0.02, 0.04, 0.03, 0.02, 0.02, 0.03, 0.02,
    0.03, 0.02, 0.03, 0.04, 0.02, 0.03, 0.02, 0.03, 0.02, 0.02,
    0.03, 0.02, 0.03, 0.02, 0.03, 0.02, 0.04, 0.02, 0.02, 0.03,
    0.02, 0.03, 0.02, 0.03, 0.02, 0.03, 0.03, 0.02, 0.03, 0.02,
    0.03, 0.02, 0.03, 0.05, 0.02, 0.03, 0.02, 0.03, 0.02, 0.03,
    0.02, 0.03, 0.02, 0.03, 0.02, 0.03, 0.02, 0.03, 0.02, 0.03,
    0.02, 0.03, 0.03, 0.02, 0.03, 0.02, 0.03, 0.02, 0.03, 0.03,
    0.03, 0.02, 0.03, 0.04, 0.03, 0.03, 0.04, 0.03, 0.04, 0.06,
    0.08, 0.04, 0.03, 0.04, 0.03, 0.04, 0.03, 0.04, 0.03, 0.04,
    0.04, 0.03, 0.04, 0.03, 0.04, 0.03, 0.04, 0.03, 0.04, 0.04,
    0.03, 0.04, 0.05, 0.04, 0.04, 0.03, 0.04, 0.05, 0.04, 0.04,
    0.05, 0.04, 0.04, 0.05, 0.04, 0.05, 0.04, 0.06, 0.05, 0.04,
    0.05, 0.04, 0.05, 0.04, 0.05, 0.04, 0.05, 0.05, 0.04, 0.05,
    0.04, 0.05, 0.04, 0.05, 0.06, 0.05, 0.04, 0.06, 0.05, 0.05,
    0.07, 0.05, 0.06, 0.04, 0.05, 0.04, 0.05, 0.04, 0.05, 0.04,
    0.05, 0.04, 0.05, 0.04, 0.05, 0.07, 0.05, 0.04, 0.05, 0.04,
    0.05, 0.04, 0.04, 0.05, 0.04, 0.04, 0.05, 0.04, 0.05, 0.06,
]
awp_comm = [
    0.06, 0.07, 0.12, 0.08, 0.10, 0.07, 0.09, 0.08, 0.06, 0.10,
    0.09, 0.07, 0.08, 0.06, 0.09, 0.07, 0.05, 0.11, 0.08, 0.07,
    0.09, 0.06, 0.08, 0.07, 0.09, 0.05, 0.10, 0.07, 0.08, 0.06,
    0.10, 0.08, 0.05, 0.09, 0.06, 0.04, 0.08, 0.07, 0.06, 0.11,
    0.08, 0.07, 0.05, 0.09, 0.06, 0.07, 0.06, 0.08, 0.05, 0.06,
    0.07, 0.06, 0.10, 0.08, 0.04, 0.11, 0.07, 0.09, 0.06, 0.07,
    0.08, 0.07, 0.05, 0.08, 0.06, 0.07, 0.09, 0.06, 0.08, 0.07,
    0.06, 0.08, 0.07, 0.06, 0.08, 0.07, 0.09, 0.06, 0.07, 0.08,
    0.07, 0.06, 0.08, 0.07, 0.06, 0.08, 0.07, 0.06, 0.05, 0.08,
    0.07, 0.06, 0.08, 0.07, 0.09, 0.06, 0.07, 0.08, 0.06, 0.07,
    0.08, 0.06, 0.07, 0.08, 0.05, 0.09, 0.07, 0.06, 0.10, 0.12,
    0.08, 0.06, 0.09, 0.07, 0.06, 0.08, 0.07, 0.09, 0.06, 0.07,
    0.08, 0.06, 0.07, 0.09, 0.08, 0.07, 0.06, 0.08, 0.10, 0.07,
    0.09, 0.07, 0.08, 0.06, 0.12, 0.08, 0.07, 0.08, 0.06, 0.07,
    0.08, 0.05, 0.06, 0.07, 0.06, 0.07, 0.05, 0.10, 0.08, 0.09,
    0.08, 0.07, 0.08, 0.06, 0.07, 0.08, 0.05, 0.07, 0.06, 0.07,
    0.08, 0.07, 0.05, 0.08, 0.07, 0.09, 0.10, 0.09, 0.11, 0.07,
    0.12, 0.09, 0.10, 0.06, 0.07, 0.06, 0.07, 0.06, 0.08, 0.07,
    0.06, 0.08, 0.07, 0.06, 0.08, 0.07, 0.09, 0.08, 0.05, 0.07,
    0.06, 0.08, 0.07, 0.06, 0.08, 0.07, 0.06, 0.07, 0.08, 0.09,
]
awp_maxoff = [
    0.00, 0.01, 0.01, 0.00, 0.01, 0.00, 0.01, 0.01, 0.00, 0.01,
    0.01, 0.02, 0.01, 0.01, 0.02, 0.01, 0.01, 0.02, 0.01, 0.01,
    0.01, 0.02, 0.01, 0.01, 0.02, 0.01, 0.02, 0.01, 0.01, 0.02,
    0.01, 0.02, 0.02, 0.01, 0.02, 0.01, 0.02, 0.01, 0.02, 0.01,
    0.02, 0.01, 0.02, 0.01, 0.02, 0.01, 0.02, 0.02, 0.01, 0.02,
    0.01, 0.02, 0.01, 0.02, 0.01, 0.02, 0.01, 0.02, 0.01, 0.02,
    0.02, 0.01, 0.02, 0.01, 0.02, 0.02, 0.01, 0.02, 0.01, 0.02,
    0.01, 0.02, 0.02, 0.01, 0.02, 0.01, 0.02, 0.01, 0.02, 0.01,
    0.02, 0.01, 0.02, 0.02, 0.01, 0.02, 0.01, 0.02, 0.02, 0.01,
    0.02, 0.01, 0.02, 0.02, 0.01, 0.01, 0.02, 0.02, 0.01, 0.02,
    0.02, 0.02, 0.01, 0.03, 0.02, 0.02, 0.03, 0.02, 0.03, 0.02,
    0.03, 0.03, 0.02, 0.03, 0.02, 0.03, 0.03, 0.02, 0.03, 0.02,
    0.03, 0.02, 0.03, 0.03, 0.02, 0.03, 0.04, 0.03, 0.03, 0.04,
    0.04, 0.05, 0.03, 0.04, 0.05, 0.04, 0.03, 0.05, 0.04, 0.03,
    0.04, 0.03, 0.05, 0.04, 0.03, 0.04, 0.03, 0.07, 0.04, 0.03,
    0.04, 0.05, 0.04, 0.05, 0.04, 0.04, 0.05, 0.04, 0.03, 0.04,
    0.05, 0.04, 0.03, 0.05, 0.04, 0.06, 0.04, 0.08, 0.05, 0.06,
    0.04, 0.07, 0.05, 0.04, 0.05, 0.04, 0.05, 0.04, 0.03, 0.04,
    0.05, 0.04, 0.05, 0.04, 0.06, 0.05, 0.04, 0.05, 0.04, 0.03,
    0.04, 0.03, 0.04, 0.05, 0.04, 0.03, 0.04, 0.05, 0.04, 0.05,
]
awp_cos_gh = [
    0.73, 0.76, 0.81, 0.76, 0.82, 0.75, 0.86, 0.79, 0.76, 0.80,
    0.81, 0.83, 0.79, 0.83, 0.80, 0.77, 0.76, 0.74, 0.75, 0.75,
    0.79, 0.81, 0.80, 0.82, 0.75, 0.82, 0.80, 0.80, 0.82, 0.76,
    0.74, 0.78, 0.76, 0.79, 0.81, 0.75, 0.83, 0.78, 0.77, 0.80,
    0.82, 0.73, 0.78, 0.84, 0.80, 0.83, 0.79, 0.76, 0.81, 0.78,
    0.76, 0.84, 0.82, 0.79, 0.77, 0.76, 0.74, 0.78, 0.77, 0.75,
    0.82, 0.79, 0.84, 0.87, 0.83, 0.78, 0.80, 0.76, 0.79, 0.78,
    0.73, 0.81, 0.86, 0.80, 0.78, 0.81, 0.76, 0.83, 0.79, 0.76,
    0.75, 0.80, 0.84, 0.82, 0.78, 0.81, 0.85, 0.76, 0.79, 0.77,
    0.75, 0.80, 0.82, 0.77, 0.74, 0.79, 0.82, 0.75, 0.84, 0.77,
    0.78, 0.72, 0.79, 0.75, 0.80, 0.71, 0.79, 0.74, 0.81, 0.82,
    0.76, 0.85, 0.80, 0.77, 0.75, 0.76, 0.79, 0.78, 0.75, 0.78,
    0.74, 0.72, 0.79, 0.80, 0.81, 0.78, 0.82, 0.77, 0.79, 0.83,
    0.78, 0.76, 0.83, 0.78, 0.77, 0.80, 0.76, 0.79, 0.77, 0.78,
    0.79, 0.77, 0.76, 0.79, 0.78, 0.75, 0.77, 0.78, 0.81, 0.77,
    0.76, 0.78, 0.82, 0.79, 0.78, 0.77, 0.76, 0.79, 0.78, 0.76,
    0.73, 0.79, 0.77, 0.68, 0.77, 0.80, 0.84, 0.79, 0.86, 0.81,
    0.78, 0.83, 0.77, 0.79, 0.81, 0.76, 0.73, 0.77, 0.79, 0.80,
    0.78, 0.77, 0.73, 0.79, 0.76, 0.78, 0.82, 0.79, 0.82, 0.79,
    0.74, 0.77, 0.79, 0.76, 0.72, 0.77, 0.75, 0.74, 0.75, 0.73,
]
awp_cos_hg = list(awp_cos_gh)
awp_prin = [
    0.75, 0.67, 0.96, 0.98, 0.95, 0.90, 0.86, 0.96, 0.92, 0.97,
    0.94, 0.66, 0.81, 0.97, 0.98, 0.87, 0.96, 0.92, 0.93, 0.98,
    0.98, 0.75, 0.97, 0.97, 0.98, 0.88, 0.90, 0.78, 0.66, 0.89,
    0.96, 0.97, 0.95, 0.96, 0.95, 0.96, 0.86, 0.95, 0.98, 0.97,
    0.96, 0.99, 0.94, 0.86, 0.93, 0.97, 0.95, 0.96, 0.95, 0.97,
    0.96, 0.98, 0.99, 0.98, 0.92, 0.98, 0.90, 0.97, 0.89, 0.67,
    0.95, 0.96, 0.95, 0.92, 0.96, 0.90, 0.85, 0.99, 0.94, 0.86,
    0.95, 0.98, 0.96, 0.96, 0.97, 0.96, 0.98, 0.97, 0.97, 0.96,
    0.98, 0.95, 0.92, 0.87, 0.91, 0.82, 0.93, 0.84, 0.93, 0.78,
    0.95, 0.97, 0.68, 0.95, 0.88, 0.77, 0.72, 0.93, 0.96, 0.97,
    0.96, 0.97, 0.96, 0.98, 0.95, 0.96, 0.93, 0.93, 0.85, 0.94,
    0.81, 0.94, 0.92, 0.96, 0.94, 0.96, 0.93, 0.96, 0.84, 0.96,
    0.64, 0.73, 0.93, 0.96, 0.95, 0.97, 0.96, 0.97, 0.95, 0.96,
    0.97, 0.96, 0.97, 0.95, 0.96, 0.97, 0.95, 0.96, 0.90, 0.95,
    0.96, 0.95, 0.97, 0.89, 0.96, 0.97, 0.96, 0.98, 0.96, 0.95,
    0.93, 0.92, 0.95, 0.96, 0.94, 0.96, 0.92, 0.89, 0.96, 0.95,
    0.84, 0.95, 0.97, 0.98, 0.96, 0.95, 0.94, 0.97, 0.96, 0.95,
    0.96, 0.93, 0.97, 0.90, 0.96, 0.97, 0.94, 0.89, 0.96, 0.95,
    0.96, 0.97, 0.96, 0.79, 0.94, 0.95, 0.94, 0.95, 0.93, 0.94,
    0.95, 0.97, 0.95, 0.92, 0.95, 0.91, 0.96, 0.95, 0.98, 0.96,
]
awp_grad = [
    0.83, 0.90, 0.94, 0.75, 0.77, 0.71, 0.75, 0.62, 0.89, 0.78,
    0.88, 0.85, 0.69, 0.89, 0.86, 0.71, 0.87, 0.80, 0.80, 0.70,
    0.81, 0.70, 0.73, 0.82, 0.68, 0.67, 0.82, 0.80, 0.75, 0.77,
    0.84, 0.67, 0.79, 0.66, 0.76, 0.83, 0.81, 0.76, 0.65, 0.83,
    0.74, 0.77, 0.77, 0.80, 0.85, 0.74, 0.75, 0.78, 0.79, 0.88,
    0.76, 0.72, 0.69, 0.71, 0.76, 0.73, 0.70, 0.75, 0.77, 0.75,
    0.80, 0.86, 0.77, 0.87, 0.74, 0.65, 0.79, 0.86, 0.78, 0.66,
    0.79, 0.82, 0.67, 0.70, 0.73, 0.76, 0.74, 0.74, 0.67, 0.76,
    0.79, 0.66, 0.79, 0.68, 0.66, 0.81, 0.80, 0.74, 0.82, 0.81,
    0.79, 0.81, 0.66, 0.74, 0.78, 0.73, 0.76, 0.69, 0.63, 0.66,
    0.75, 0.77, 0.80, 0.81, 0.84, 0.82, 0.83, 0.86, 0.81, 0.86,
    0.82, 0.84, 0.85, 0.75, 0.87, 0.82, 0.78, 0.88, 0.87, 0.85,
    0.83, 0.84, 0.79, 0.76, 0.75, 0.79, 0.88, 0.84, 0.80, 0.78,
    0.86, 0.84, 0.81, 0.83, 0.85, 0.82, 0.86, 0.79, 0.85, 0.84,
    0.78, 0.86, 0.83, 0.77, 0.81, 0.83, 0.89, 0.84, 0.85, 0.85,
    0.84, 0.88, 0.92, 0.87, 0.85, 0.89, 0.83, 0.85, 0.88, 0.86,
    0.89, 0.85, 0.88, 0.90, 0.86, 0.85, 0.89, 0.83, 0.88, 0.87,
    0.86, 0.85, 0.87, 0.84, 0.86, 0.86, 0.88, 0.85, 0.87, 0.86,
    0.88, 0.92, 0.89, 0.87, 0.88, 0.86, 0.89, 0.87, 0.88, 0.87,
    0.88, 0.86, 0.89, 0.90, 0.87, 0.84, 0.88, 0.85, 0.88, 0.90,
]

comm_labels = ['Diag frac.', 'Offdiag frac.', 'Comm rel.', 'Max |off|']
align_labels = ['Best cos (H\u2192\u0393)', 'Best cos (\u0393\u2192H)', 'Prin cos\u00b2 (top-r)']
grad_label = r'$\|V_k^{\top}\,g\|^2/\|g\|^2$'

comm_series = {
    'ST': [st_diag, st_offdiag, st_comm, st_maxoff],
    'AT': [at_diag, at_offdiag, at_comm, at_maxoff],
    'AWP': [awp_diag, awp_offdiag, awp_comm, awp_maxoff],
}
align_series = {
    'ST': [st_cos_hg, st_cos_gh, st_prin],
    'AT': [at_cos_hg, at_cos_gh, at_prin],
    'AWP': [awp_cos_hg, awp_cos_gh, awp_prin],
}
grad_series = {'ST': st_grad, 'AT': at_grad, 'AWP': awp_grad}

# ---- style ----
sns.set_theme(style='ticks')
plt.rcParams['font.family'] = ['Liberation Serif', 'DejaVu Serif', 'DejaVu Sans']
plt.rcParams['mathtext.fontset'] = 'dejavusans'
plt.rcParams['xtick.major.width'] = 1.4
plt.rcParams['ytick.major.width'] = 1.4
plt.rcParams['xtick.major.size'] = 5.5
plt.rcParams['ytick.major.size'] = 5.5
plt.rcParams['xtick.color'] = 'black'
plt.rcParams['ytick.color'] = 'black'

palette = sns.color_palette('tab10')
colors = [palette[0], palette[1], palette[2], palette[3]]
LW = 2.3
TICK_FS = 17.5
LABEL_FS = 21
TITLE_FS = 22.5
LEG_FS = 15

fig, axes = plt.subplots(3, 3, figsize=(15.39, 8.9), dpi=200, sharex=True, sharey='row')
fig.subplots_adjust(left=0.062, right=0.998, top=0.967, bottom=0.073, wspace=0.048, hspace=0.05)

for j, run in enumerate(runs):
    # commutativity
    ax = axes[0, j]
    for k, (vals, lab) in enumerate(zip(comm_series[run], comm_labels)):
        sns.lineplot(x=epochs, y=vals, ax=ax, color=colors[k], lw=LW, alpha=0.9,
                     label=lab if j == 0 else None)
    # alignment
    ax = axes[1, j]
    for k, (vals, lab) in enumerate(zip(align_series[run], align_labels)):
        sns.lineplot(x=epochs, y=vals, ax=ax, color=colors[k], lw=LW, alpha=0.9,
                     label=lab if j == 0 else None)
    # grad fraction
    ax = axes[2, j]
    sns.lineplot(x=epochs, y=grad_series[run], ax=ax, color=colors[0], lw=LW, alpha=0.9,
                 label=grad_label if j == 0 else None)

    axes[0, j].set_title(run, fontsize=TITLE_FS, pad=6)

for i in range(3):
    for j in range(3):
        ax = axes[i, j]
        for xv in (100, 150):
            ax.axvline(xv, color='gray', linestyle='--', lw=1.6, alpha=0.8, zorder=0.5)
        ax.grid(True, alpha=0.3, lw=1.0)
        ax.set_axisbelow(True)
        ax.set_xlabel('')
        ax.set_ylabel('')
        ax.tick_params(labelsize=TICK_FS, left=(j == 0), bottom=(i == 2))
        for sp in ax.spines.values():
            sp.set_visible(True)
            sp.set_color('black')
            sp.set_linewidth(1.5)

axes[0, 0].set_ylim(-0.08, 1.075)
axes[1, 0].set_ylim(-0.056, 1.078)
axes[2, 0].set_ylim(0.0, 1.0)
axes[0, 0].set_yticks([0.0, 0.25, 0.5, 0.75, 1.0])
axes[0, 0].set_yticklabels(['0.00', '0.25', '0.50', '0.75', '1.00'])
axes[1, 0].set_yticks([0.0, 0.25, 0.5, 0.75, 1.0])
axes[1, 0].set_yticklabels(['0.00', '0.25', '0.50', '0.75', '1.00'])
axes[2, 0].set_yticks([0.0, 0.2, 0.4, 0.6, 0.8, 1.0])
axes[2, 0].set_yticklabels(['0.0', '0.2', '0.4', '0.6', '0.8', '1.0'])
axes[2, 0].set_xticks([0, 50, 100, 150, 200])
axes[2, 0].set_xlim(-9.95, 208.95)

for i, lab in enumerate(row_labels):
    axes[i, 0].set_ylabel(lab, fontsize=LABEL_FS)
axes[2, 1].set_xlabel('Epoch', fontsize=LABEL_FS, labelpad=2)

leg_kw = dict(fontsize=LEG_FS, frameon=True, fancybox=True, edgecolor='0.6',
              framealpha=0.8, handlelength=2.2)
axes[0, 0].legend(loc='center left', ncol=2, columnspacing=1.6, **leg_kw)
axes[1, 0].legend(loc='lower left', **leg_kw)
axes[2, 0].legend(loc='lower left', **leg_kw)
for leg_ax in axes[0, 0], axes[1, 0], axes[2, 0]:
    for line in leg_ax.get_legend().get_lines():
        line.set_linewidth(LW)

fig.savefig('out.png', dpi=200)
